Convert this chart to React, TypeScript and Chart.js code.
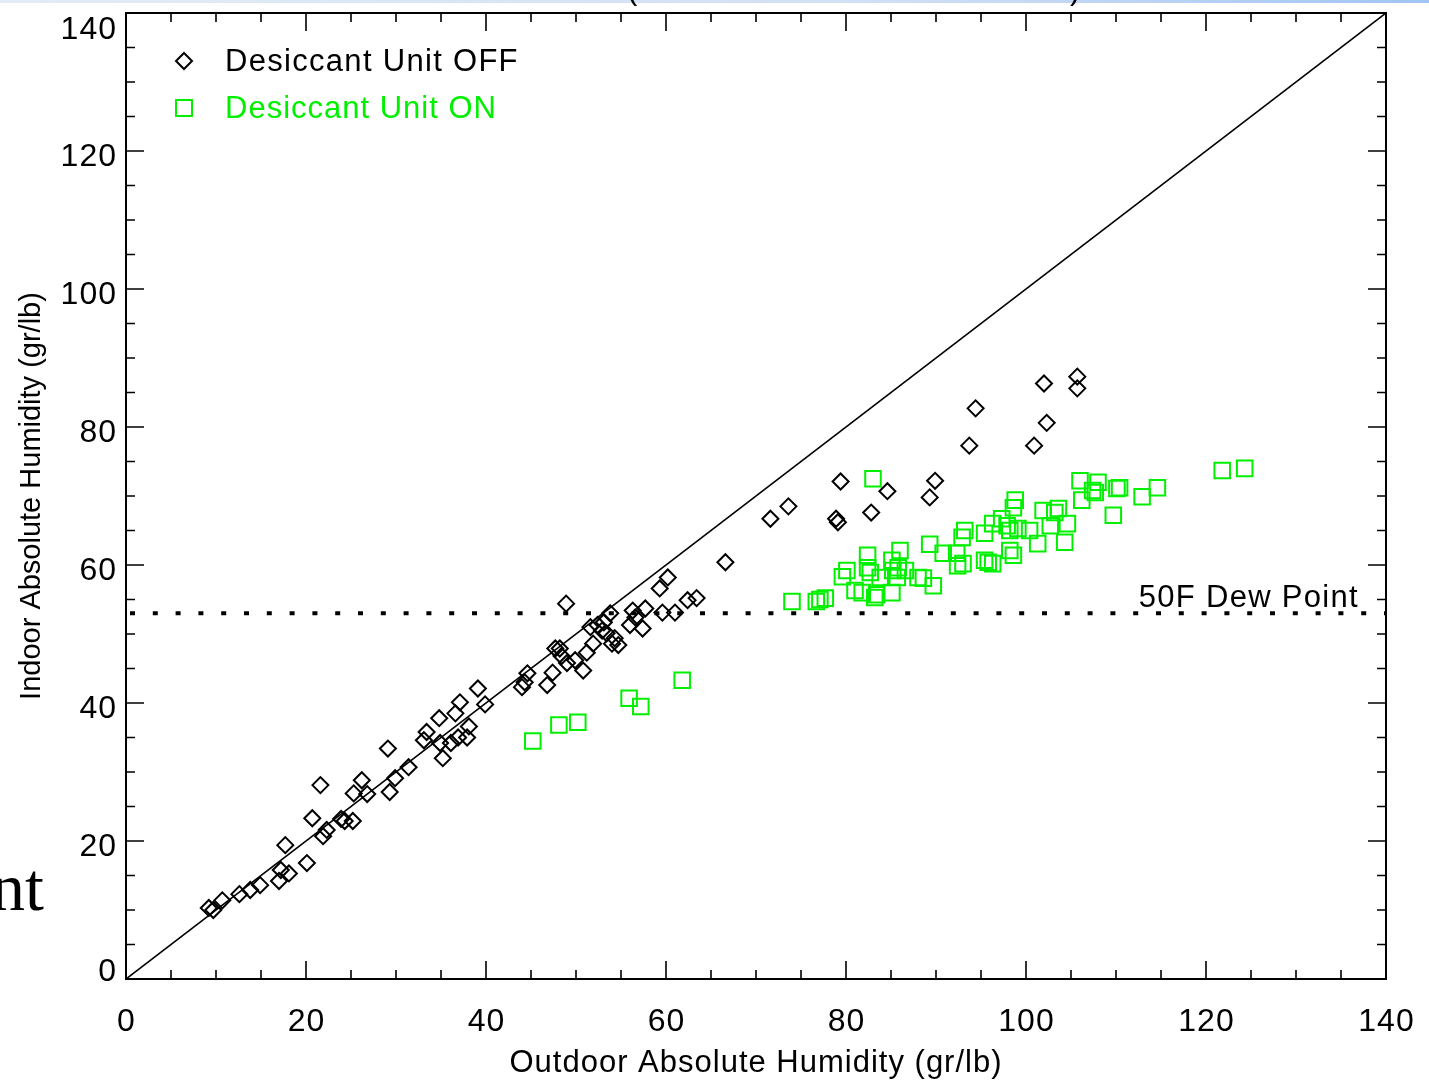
import React, { useEffect, useRef } from 'react';
import { Chart, registerables } from 'chart.js';

Chart.register(...registerables);

// ---- Data ----
const offOutdoor = [
  9.2, 9.7, 10.7, 12.6, 13.8, 14.9, 17.0, 17.2, 18.1, 17.7, 20.1, 20.7, 21.6, 21.9, 22.3, 23.9, 24.3, 25.2, 25.3, 26.2,
  26.8, 29.1, 29.3, 29.9, 31.4, 33.1, 33.4, 34.8, 35.2, 34.9, 36.1, 36.6, 36.9, 37.1, 37.9, 38.1, 39.1, 39.9, 44.0, 44.3,
  44.6, 46.8, 47.4, 47.7, 48.2, 48.4, 48.9, 49.0, 49.9, 50.8, 51.2, 51.9, 51.6, 52.4, 52.9, 53.1, 53.8, 53.4, 54.0, 54.7,
  54.3, 56.0, 56.3, 56.6, 57.7, 57.4, 59.3, 60.2, 59.6, 61.0, 62.4, 63.4, 66.6, 71.6, 73.6, 78.9, 79.1, 79.4, 82.8, 84.6,
  89.3, 89.9, 93.7, 94.4, 100.9, 102.0, 102.3, 105.7, 105.7,
];
const offIndoor = [
  10.3, 10.0, 11.4, 12.3, 12.9, 13.6, 14.2, 15.8, 15.3, 19.4, 16.8, 23.3, 28.1, 20.7, 21.6, 23.2, 22.9, 22.9, 26.9, 28.8,
  26.8, 33.4, 27.1, 29.1, 30.7, 34.6, 35.8, 37.8, 32.0, 34.2, 34.2, 38.5, 35.0, 40.1, 35.0, 36.6, 42.1, 39.8, 42.3, 43.0,
  44.3, 42.6, 44.4, 47.9, 47.9, 46.8, 54.4, 45.8, 46.2, 44.7, 47.3, 48.6, 51.0, 51.3, 50.5, 51.7, 53.0, 50.1, 48.6, 48.4,
  49.4, 51.3, 53.4, 52.4, 53.7, 50.8, 56.6, 58.2, 53.1, 53.1, 54.9, 55.2, 60.4, 66.7, 68.5, 66.7, 66.2, 72.1, 67.6, 70.7,
  69.8, 72.2, 77.3, 82.7, 77.3, 86.3, 80.6, 87.3, 85.6,
];
const onOutdoor = [
  45.2, 48.1, 50.2, 55.9, 57.2, 61.8, 74.0, 76.7, 77.1, 77.7, 83.0, 79.6, 80.1, 81.0, 81.8, 82.4, 82.4, 82.7, 83.2, 83.4,
  83.8, 85.1, 85.1, 85.2, 85.8, 86.0, 85.7, 86.6, 88.0, 88.6, 89.7, 89.3, 90.8, 92.3, 92.4, 93.0, 92.9, 93.2, 95.4, 95.4,
  95.8, 96.3, 96.3, 97.3, 97.9, 98.2, 98.6, 98.6, 98.8, 98.2, 99.1, 100.4, 101.3, 101.9, 102.7, 103.2, 103.6, 104.6, 104.3, 106.0,
  106.2, 107.4, 107.7, 108.0, 109.7, 110.1, 110.4, 112.9, 114.6, 121.8, 124.3,
];
const onIndoor = [
  34.5, 36.8, 37.2, 40.7, 39.5, 43.3, 54.7, 54.7, 55.0, 55.2, 72.5, 58.3, 59.2, 56.3, 56.0, 61.4, 59.6, 58.9, 55.3, 55.7,
  58.2, 56.0, 60.7, 59.2, 59.6, 62.1, 58.2, 59.2, 58.2, 58.1, 57.0, 63.0, 61.7, 61.7, 59.9, 60.2, 64.0, 65.0, 64.6, 60.7,
  60.4, 60.2, 66.0, 66.7, 65.7, 62.1, 61.4, 68.3, 69.4, 65.0, 65.3, 65.0, 63.1, 67.9, 65.7, 67.6, 68.2, 66.0, 63.3, 72.2,
  69.4, 70.8, 70.5, 72.0, 67.2, 71.1, 71.2, 69.9, 71.2, 73.7, 74.0,
];
const xTickValues = [0, 20, 40, 60, 80, 100, 120, 140];
const yTickValues = [0, 20, 40, 60, 80, 100, 120, 140];
const minorStep = 5;
const axisMin = 0;
const axisMax = 140;
const dewPoint = 53;
const seriesLabels = ['Desiccant Unit OFF', 'Desiccant Unit ON'];
const xTitle = 'Outdoor Absolute Humidity (gr/lb)';
const yTitle = 'Indoor Absolute Humidity (gr/lb)';
const dewLabel = '50F Dew Point';

const FONT = '"Liberation Sans", Arial, Helvetica, sans-serif';
const GREEN = '#00f000';

const decorPlugin = {
  id: 'decor',
  afterDraw(chart: any) {
    const { ctx, chartArea: a, scales } = chart;
    const xs = scales.x;
    const ys = scales.y;
    ctx.save();

    // top band / cropped slide artifacts
    const grad = ctx.createLinearGradient(0, 0, 1429, 0);
    grad.addColorStop(0, 'rgba(200,215,235,0.5)');
    grad.addColorStop(0.6, 'rgba(190,210,240,0.7)');
    grad.addColorStop(1, 'rgba(160,196,244,1)');
    ctx.fillStyle = grad;
    ctx.fillRect(0, 0, 1429, 3);

    // frame
    ctx.strokeStyle = '#000';
    ctx.lineWidth = 2;
    ctx.strokeRect(a.left, a.top, a.right - a.left, a.bottom - a.top);

    // ticks on all four sides, pointing inward
    ctx.lineWidth = 1.6;
    ctx.beginPath();
    for (let v = axisMin; v <= axisMax; v += minorStep) {
      const len = v % 20 === 0 ? 18 : 9;
      const px = xs.getPixelForValue(v);
      const py = ys.getPixelForValue(v);
      ctx.moveTo(px, a.bottom);
      ctx.lineTo(px, a.bottom - len);
      ctx.moveTo(px, a.top);
      ctx.lineTo(px, a.top + len);
      ctx.moveTo(a.left, py);
      ctx.lineTo(a.left + len, py);
      ctx.moveTo(a.right, py);
      ctx.lineTo(a.right - len, py);
    }
    ctx.stroke();

    // tick labels
    ctx.fillStyle = '#000';
    ctx.font = `32px ${FONT}`;
    ctx.letterSpacing = '1px';
    ctx.textBaseline = 'alphabetic';
    ctx.textAlign = 'right';
    yTickValues.forEach((v) => {
      const py = ys.getPixelForValue(v);
      const cy = Math.min(Math.max(py + 3, 27), 969);
      ctx.fillText(String(v), 117, cy + 11.5);
    });
    ctx.textAlign = 'center';
    xTickValues.forEach((v) => {
      const px = xs.getPixelForValue(v);
      ctx.fillText(String(v), px + 0.5, 1031);
    });

    // x title
    ctx.font = `31px ${FONT}`;
    ctx.letterSpacing = '1px';
    ctx.textAlign = 'center';
    ctx.fillText(xTitle, (a.left + a.right) / 2, 1072);

    // y title
    ctx.save();
    ctx.font = `29px ${FONT}`;
    ctx.letterSpacing = '0px';
    ctx.translate(40, (a.top + a.bottom) / 2);
    ctx.rotate(-Math.PI / 2);
    ctx.textAlign = 'center';
    ctx.fillText(yTitle, 0, 0);
    ctx.restore();

    // dew point label
    ctx.font = `31px ${FONT}`;
    ctx.letterSpacing = '1.3px';
    ctx.textAlign = 'right';
    ctx.fillStyle = '#000';
    ctx.fillText(dewLabel, 1359, 607);

    // legend
    ctx.textAlign = 'left';
    ctx.letterSpacing = '1.3px';
    ctx.lineWidth = 2;
    ctx.strokeStyle = '#000';
    ctx.beginPath();
    ctx.moveTo(184, 53);
    ctx.lineTo(192, 61);
    ctx.lineTo(184, 69);
    ctx.lineTo(176, 61);
    ctx.closePath();
    ctx.stroke();
    ctx.fillStyle = '#000';
    ctx.fillText(seriesLabels[0], 225, 71);
    ctx.strokeStyle = GREEN;
    ctx.strokeRect(176, 100, 16, 16);
    ctx.fillStyle = GREEN;
    ctx.letterSpacing = '1px';
    ctx.fillText(seriesLabels[1], 225, 118);

    // cropped slide text fragments
    ctx.fillStyle = '#000';
    ctx.letterSpacing = '0px';
    ctx.font = `31px ${FONT}`;
    ctx.textAlign = 'left';
    ctx.fillText('(', 627, -1);
    ctx.fillText(')', 1070, -1);
    ctx.font = `68px "Liberation Serif", "Times New Roman", serif`;
    ctx.textAlign = 'right';
    ctx.fillText('nt', 44, 910);

    ctx.restore();
  },
};

export default function App() {
  const canvasRef = useRef<HTMLCanvasElement | null>(null);

  useEffect(() => {
    const canvas = canvasRef.current;
    if (!canvas) return;
    const offPoints = offOutdoor.map((x, i) => ({ x, y: offIndoor[i] }));
    const onPoints = onOutdoor.map((x, i) => ({ x, y: onIndoor[i] }));
    const chart = new Chart(canvas, {
      type: 'scatter',
      data: {
        datasets: [
          {
            label: seriesLabels[0],
            data: offPoints,
            pointStyle: 'rectRot',
            pointRadius: 8,
            borderColor: '#000',
            backgroundColor: 'rgba(0,0,0,0)',
            borderWidth: 2,
          },
          {
            label: seriesLabels[1],
            data: onPoints,
            pointStyle: 'rect',
            pointRadius: 11,
            borderColor: GREEN,
            backgroundColor: 'rgba(0,0,0,0)',
            borderWidth: 2,
          },
          {
            type: 'line',
            label: 'dew',
            data: [
              { x: axisMin, y: dewPoint },
              { x: axisMax, y: dewPoint },
            ],
            borderColor: '#000',
            borderWidth: 4,
            borderDash: [5, 17.8],
            borderDashOffset: 18.8,
            borderCapStyle: 'butt',
            pointRadius: 0,
            fill: false,
          },
          {
            type: 'line',
            label: 'oneToOne',
            data: [
              { x: axisMin, y: axisMin },
              { x: axisMax, y: axisMax },
            ],
            borderColor: '#000',
            borderWidth: 1.6,
            pointRadius: 0,
            fill: false,
          },
        ] as any,
      },
      options: {
        animation: false,
        responsive: false,
        devicePixelRatio: 1,
        events: [],
        layout: { padding: { left: 126, top: 12, right: 43, bottom: 101 } },
        scales: {
          x: { type: 'linear', min: axisMin, max: axisMax, display: false },
          y: { type: 'linear', min: axisMin, max: axisMax, display: false },
        },
        plugins: {
          legend: { display: false },
          tooltip: { enabled: false },
        },
      } as any,
      plugins: [decorPlugin],
    });
    return () => chart.destroy();
  }, []);

  return (
    <div style={{ position: 'absolute', left: 0, top: 0, width: 1429, height: 1080, background: '#fff' }}>
      <canvas ref={canvasRef} width={1429} height={1080} style={{ display: 'block', width: 1429, height: 1080 }} />
    </div>
  );
}
